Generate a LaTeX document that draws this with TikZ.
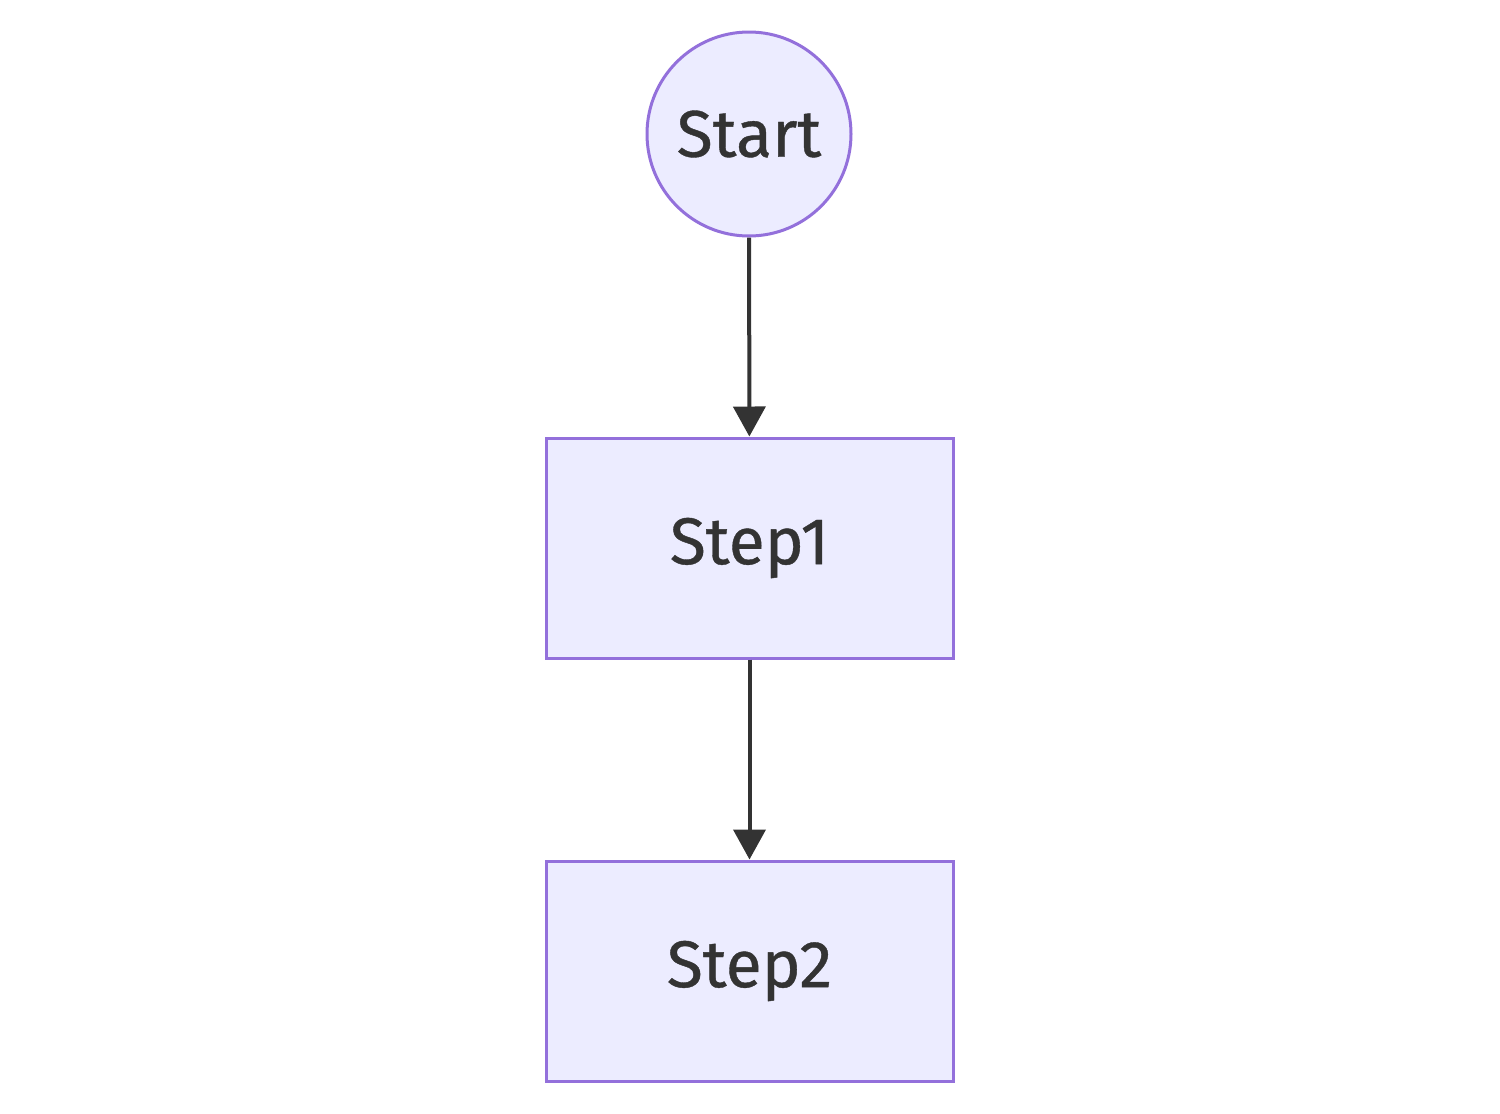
\documentclass[tikz,border=0pt]{standalone}
\usepackage{fontspec}
\setmainfont{Fira Sans}
\newfontfamily\labelfont{Fira Sans}[FakeBold=0.6]
\usetikzlibrary{arrows.meta}
\definecolor{nodefill}{HTML}{ECECFF}
\definecolor{nodeline}{HTML}{9370DB}
\definecolor{ink}{HTML}{333333}
\begin{document}
\begin{tikzpicture}[x=0.5pt,y=-0.5pt,
  base/.style={draw=nodeline,fill=nodefill,line width=1.5pt,text=ink,
    font=\labelfont\fontsize{33}{40}\selectfont,inner sep=0pt},
  startnode/.style={base,circle,minimum size=102pt},
  stepbox/.style={base,rectangle,minimum width=203.5pt,minimum height=110pt},
  flow/.style={draw=ink,line width=2pt,-{Triangle[length=15pt,width=16pt]}}]
  \useasboundingbox (0,0) rectangle (1500,1114);
  \node[startnode] (start) at (749,134) {Start};
  \node[stepbox] (s1) at (749.5,548) {Step1};
  \node[stepbox] (s2) at (749.5,971) {Step2};
  \draw[flow] (start) -- (s1);
  \draw[flow] (s1) -- (s2);
\end{tikzpicture}
\end{document}
